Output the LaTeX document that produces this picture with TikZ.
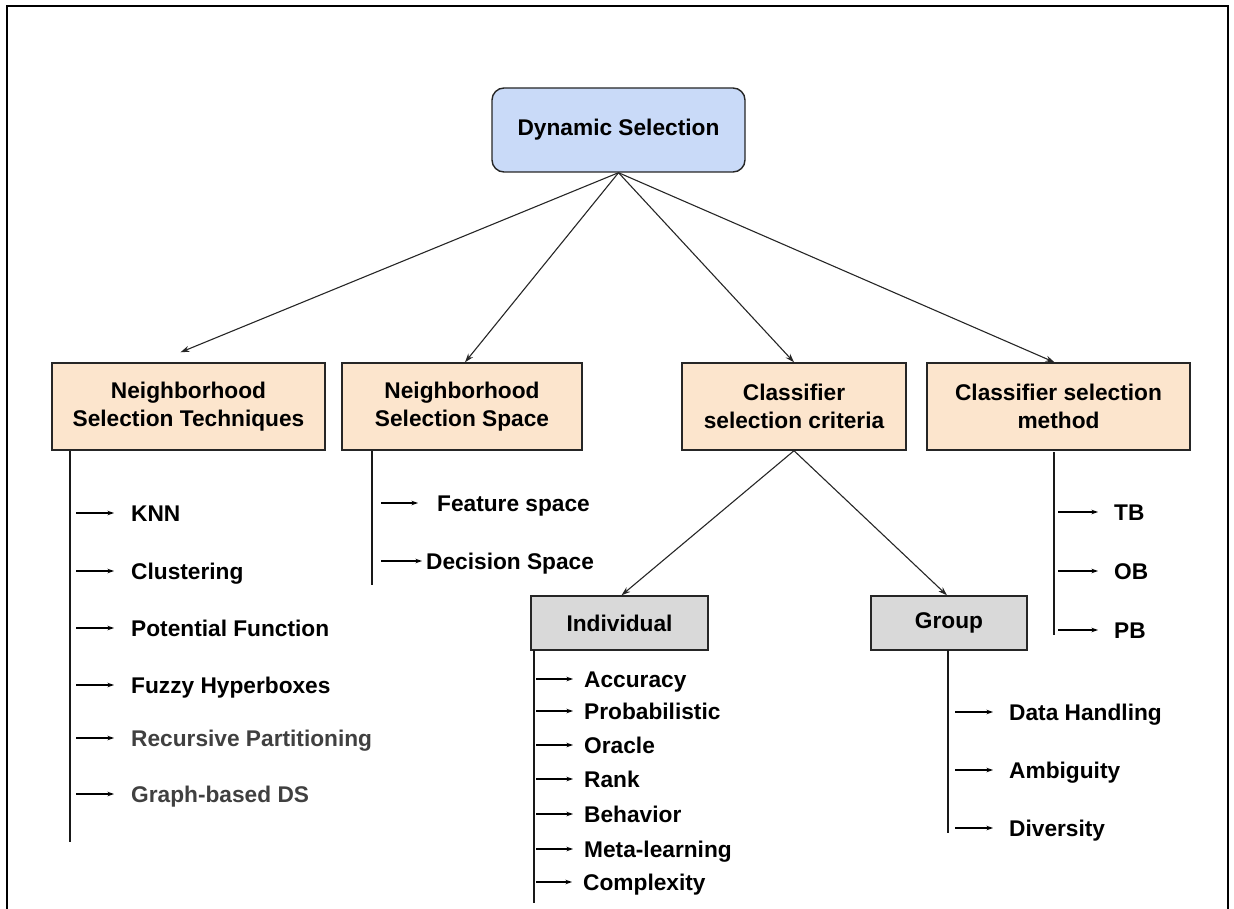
\documentclass[tikz,border=0pt]{standalone}
\usepackage{fontspec}
\setmainfont{Liberation Sans}
\usetikzlibrary{arrows.meta,calc}
\definecolor{dsblue}{HTML}{C9DAF8}
\definecolor{catfill}{HTML}{FCE5CD}
\definecolor{subfill}{HTML}{D9D9D9}
\definecolor{edge}{HTML}{262626}
\definecolor{softtext}{HTML}{404040}

\begin{document}
\begin{tikzpicture}[x=1pt,y=-1pt,
  font=\fontsize{22.7}{28}\selectfont\bfseries,
  box/.style={draw=edge, line width=1.4pt, inner sep=0pt, align=center, text=black},
  rootbox/.style={box, fill=dsblue, rounded corners=12pt},
  catbox/.style={box, fill=catfill, minimum height=87pt},
  subbox/.style={box, fill=subfill, minimum height=54pt},
  link/.style={line width=1.1pt, draw=black!85, -{Stealth[length=9pt,width=6pt]}},
  spine/.style={line width=1.3pt, draw=black!90},
  leaf/.style={anchor=west, inner sep=0pt, text height=16.2pt, text depth=0pt},
  leafarrow/.style={line width=1.1pt, draw=black, -{Stealth[length=6.5pt,width=4.5pt]}},
]
\useasboundingbox (0,0) rectangle (1234,909);

% outer frame, open at the bottom
\draw[line width=2pt] (7,909) -- (7,6) -- (1228,6) -- (1228,909);

% root and categories
\node[rootbox, minimum width=253pt, minimum height=84pt] (ds) at (618.5,130) {Dynamic Selection};

\node[catbox, minimum width=273pt] (nst) at (188.5,406.5) {Neighborhood\\Selection Techniques};
\node[catbox, minimum width=240pt] (nss) at (462,406.5) {Neighborhood\\Selection Space};
\node[catbox, minimum width=224pt] (csc) at (794,406.5) {Classifier\\selection criteria};
\node[catbox, minimum width=263pt] (csm) at (1058.5,406.5) {Classifier selection\\method};

\node[subbox, minimum width=177pt] (ind) at (619.5,623) {Individual};
\node[subbox, minimum width=156pt] (grp) at (949,623) {Group};

% root to categories
\draw[link] (ds.south) -- ([shift={(-8pt,10pt)}]nst.north);
\draw[link] (ds.south) -- ([xshift=3pt]nss.north);
\draw[link] (ds.south) -- (csc.north);
\draw[link] (ds.south) -- ([xshift=-4pt]csm.north);

% criteria split
\draw[link] (csc.south) -- ([xshift=2pt]ind.north);
\draw[link] (csc.south) -- ([xshift=-2pt]grp.north);

% spines
\coordinate (nstTop) at (70,451);
\coordinate (nstEnd) at (70,842);
\coordinate (nssTop) at (372,451);
\coordinate (nssEnd) at (372,585);
\coordinate (csmTop) at (1054,452);
\coordinate (csmEnd) at (1054,635);
\coordinate (indTop) at (534,650);
\coordinate (indEnd) at (534,903);
\coordinate (grpTop) at (948,650);
\coordinate (grpEnd) at (948,833);
\draw[spine] (nstTop) -- (nstEnd);
\draw[spine] (nssTop) -- (nssEnd);
\draw[spine] (csmTop) -- (csmEnd);
\draw[spine] (indTop) -- (indEnd);
\draw[spine] (grpTop) -- (grpEnd);

% arrow start columns
\coordinate (nstX) at (76,0);
\coordinate (nssX) at (381,0);
\coordinate (csmX) at (1058,0);
\coordinate (indX) at (536,0);
\coordinate (grpX) at (955,0);

% neighborhood selection techniques
\node[leaf] (knn) at (131,513) {KNN};
\node[leaf] (clu) at (131,571) {Clustering};
\node[leaf] (pot) at (131,628) {Potential Function};
\node[leaf] (fuz) at (131,685) {Fuzzy Hyperboxes};
\node[leaf, text=softtext] (rec) at (131,738) {Recursive Partitioning};
\node[leaf, text=softtext] (gra) at (131,794) {Graph-based DS};
\foreach \n in {knn,clu,pot,fuz,rec,gra}
  \draw[leafarrow] (\n.west -| nstX) -- ([xshift=-17pt]\n.west);

% neighborhood selection space
\node[leaf] (fea) at (437,503) {Feature space};
\node[leaf] (dec) at (426,561) {Decision Space};
\draw[leafarrow] (fea.west -| nssX) -- ([xshift=-19pt]fea.west);
\draw[leafarrow] (dec.west -| nssX) -- ([xshift=-4pt]dec.west);

% classifier selection method
\node[leaf] (tb) at (1114,512) {TB};
\node[leaf] (ob) at (1114,571) {OB};
\node[leaf] (pb) at (1114,630) {PB};
\foreach \n in {tb,ob,pb}
  \draw[leafarrow] (\n.west -| csmX) -- ([xshift=-16pt]\n.west);

% individual criteria
\node[leaf] (acc) at (584,679) {Accuracy};
\node[leaf] (pro) at (584,711) {Probabilistic};
\node[leaf] (ora) at (584,745) {Oracle};
\node[leaf] (ran) at (584,779) {Rank};
\node[leaf] (beh) at (584,814) {Behavior};
\node[leaf] (met) at (584,849) {Meta-learning};
\node[leaf] (com) at (583,882) {Complexity};
\foreach \n in {acc,pro,ora,ran,beh,met,com}
  \draw[leafarrow] (\n.west -| indX) -- ([xshift=-11pt]\n.west);

% group criteria
\node[leaf] (dat) at (1009,712) {Data Handling};
\node[leaf] (amb) at (1009,770) {Ambiguity};
\node[leaf] (div) at (1009,828) {Diversity};
\foreach \n in {dat,amb,div}
  \draw[leafarrow] (\n.west -| grpX) -- ([xshift=-16pt]\n.west);

\end{tikzpicture}
\end{document}
